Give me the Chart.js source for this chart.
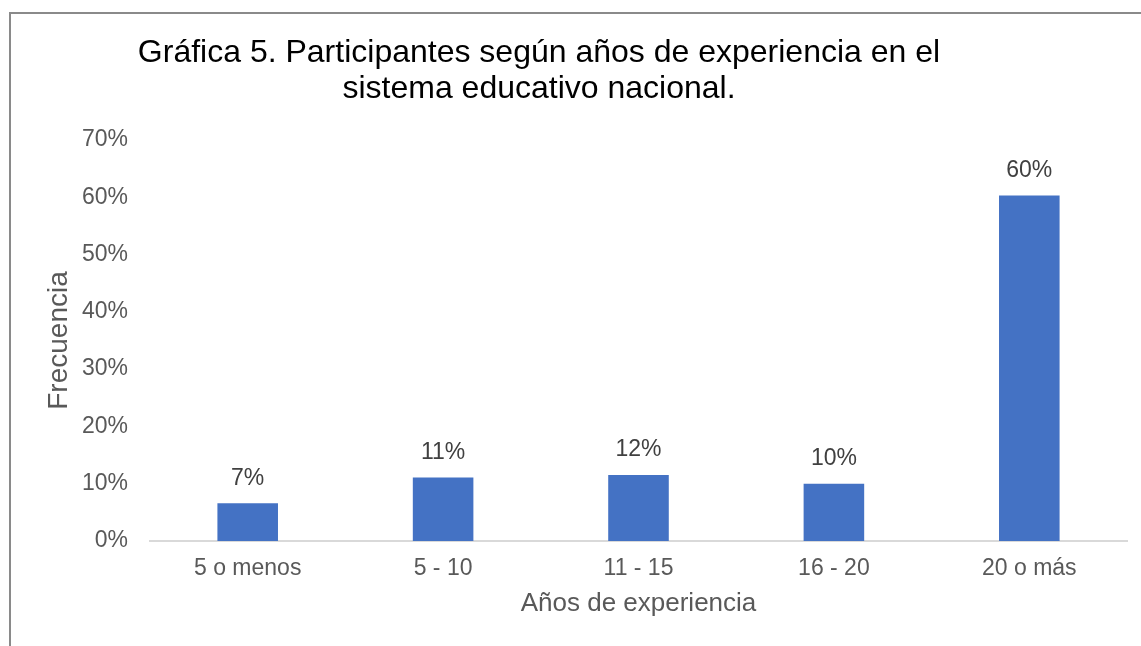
<!DOCTYPE html>
<html>
<head>
<meta charset="utf-8">
<script src="https://cdn.jsdelivr.net/npm/chart.js@4/dist/chart.umd.min.js"></script>
<style>
  html, body { margin: 0; padding: 0; background: #fff; overflow: hidden; }
  #wrap { position: relative; width: 1141px; height: 646px; }
  #frame { position: absolute; left: 9px; top: 12px; width: 1200px; height: 700px; border: 2px solid #8a8a8a; box-sizing: border-box; }
  #c { position: absolute; left: 0; top: 0; }
</style>
</head>
<body>
<div id="wrap">
  <div id="frame"></div>
  <canvas id="c" width="1141" height="646"></canvas>
</div>
<script>
const categorias = ['5 o menos', '5 - 10', '11 - 15', '16 - 20', '20 o más'];
const frecuencia = [6.6, 11.1, 11.5, 10.0, 60.3];
const etiquetas  = ['7%', '11%', '12%', '10%', '60%'];
const titulo     = ['Gráfica 5. Participantes según años de experiencia en el', 'sistema educativo nacional.'];

const FONT = "'Liberation Sans', Arial, sans-serif";

// etiquetas de datos sobre cada barra
const barLabels = {
  id: 'barLabels',
  afterDatasetsDraw(chart) {
    const ctx = chart.ctx;
    const meta = chart.getDatasetMeta(0);
    ctx.save();
    ctx.font = '23px ' + FONT;
    ctx.fillStyle = '#404040';
    ctx.textAlign = 'center';
    ctx.textBaseline = 'middle';
    meta.data.forEach((bar, i) => {
      ctx.fillText(etiquetas[i], bar.x, bar.y - 25);
    });
    ctx.restore();
  }
};

// título en dos líneas, centrado como en el original
const chartTitle = {
  id: 'chartTitle',
  afterDraw(chart) {
    const ctx = chart.ctx;
    ctx.save();
    ctx.font = '32px ' + FONT;
    ctx.fillStyle = '#000';
    ctx.textAlign = 'center';
    ctx.textBaseline = 'alphabetic';
    titulo.forEach((t, i) => ctx.fillText(t, 539, 62 + i * 36));
    ctx.restore();
  }
};

new Chart(document.getElementById('c'), {
  type: 'bar',
  data: {
    labels: categorias,
    datasets: [{
      label: 'Frecuencia',
      data: frecuencia,
      backgroundColor: '#4472C4',
      categoryPercentage: 1,
      barPercentage: 0.31,
    }],
  },
  options: {
    responsive: false,
    animation: false,
    layout: { padding: { top: 140, right: 14, bottom: 0, left: 0 } },
    plugins: {
      legend: { display: false },
      tooltip: { enabled: false },
      title: { display: false },
    },
    scales: {
      x: {
        grid: { display: false, drawTicks: false },
        border: { display: true, color: '#d9d9d9', width: 2 },
        ticks: { color: '#595959', font: { family: FONT, size: 23 }, padding: 14 },
        title: { display: true, text: 'Años de experiencia', color: '#595959', font: { family: FONT, size: 26 }, padding: { top: 4, bottom: 27 } },
        afterFit: s => { s.height = 105; },
      },
      y: {
        min: 0, max: 70,
        grid: { display: false, drawTicks: false },
        border: { display: false },
        ticks: { stepSize: 10, color: '#595959', font: { family: FONT, size: 23 }, padding: 22, callback: v => v + '%' },
        title: { display: true, text: 'Frecuencia', color: '#595959', font: { family: FONT, size: 28 }, padding: { top: 42, bottom: 4 } },
        afterFit: s => { s.width = 150; },
      },
    },
  },
  plugins: [barLabels, chartTitle],
});
</script>
</body>
</html>
